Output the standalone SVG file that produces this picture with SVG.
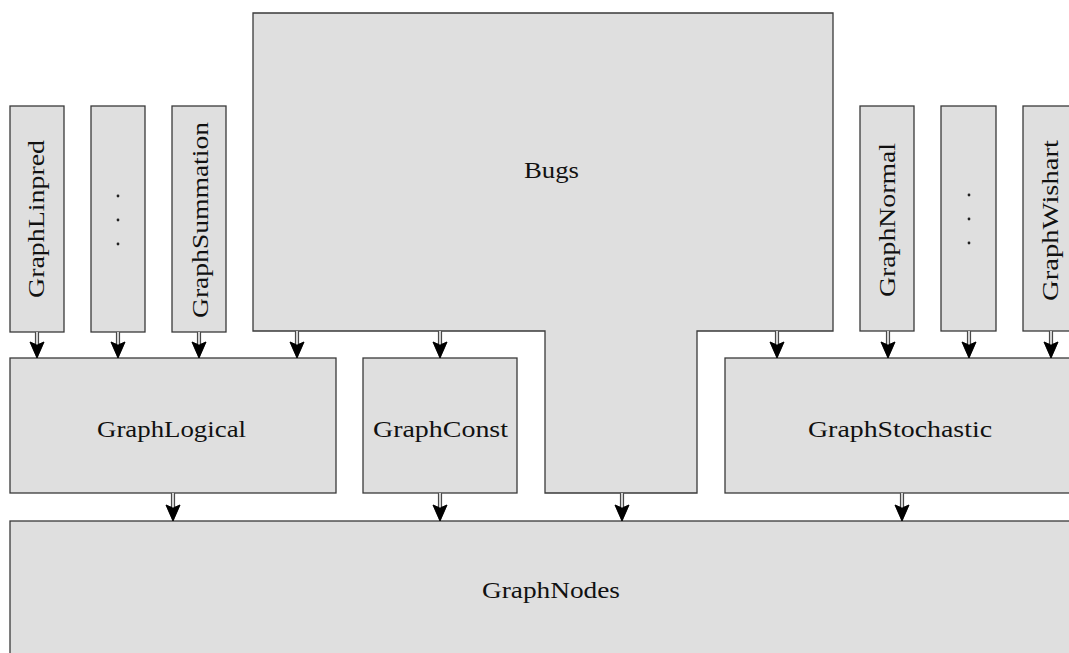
<svg xmlns="http://www.w3.org/2000/svg" xmlns:xlink="http://www.w3.org/1999/xlink" width="1069" height="653" viewBox="0 0 1069 653">
  <style>
    .box { fill: #dfdfdf; stroke: #3a3a3a; stroke-width: 1.3; }
    .lbl { font-family: "Liberation Serif", "Times New Roman", serif; font-size: 24px; fill: #111; }
    .dot { fill: #222; }
    .shaft-outer { fill: none; stroke: #4a4a4a; stroke-width: 4.2; }
    .shaft-inner { fill: none; stroke: #f4f4f4; stroke-width: 1.6; }
  </style>
  <defs>
    <!-- solid barbed head; reference point is the notch so the shaft ends inside it -->
    <marker id="head" markerUnits="userSpaceOnUse" markerWidth="17" markerHeight="14" refX="3" refY="7" orient="auto" overflow="visible">
      <path d="M0,0 L16,7 L0,14 L3,7 Z" fill="#000" stroke="#000" stroke-width="0.6" stroke-linejoin="miter"/>
    </marker>
  </defs>

  <rect width="1069" height="653" fill="#fff"/>

  <!-- top row: specialised node classes -->
  <g id="GraphLinpred">
    <rect class="box" x="10" y="106" width="54" height="226"/>
    <text class="lbl" transform="translate(44,298) rotate(-90)" textLength="158" lengthAdjust="spacingAndGlyphs">GraphLinpred</text>
  </g>
  <g id="LogicalMore">
    <rect class="box" x="91" y="106" width="54" height="226"/>
    <circle class="dot" cx="118" cy="196" r="1.4"/>
    <circle class="dot" cx="118" cy="220" r="1.4"/>
    <circle class="dot" cx="118" cy="244" r="1.4"/>
  </g>
  <g id="GraphSummation">
    <rect class="box" x="172" y="106" width="54" height="226"/>
    <text class="lbl" transform="translate(208,318) rotate(-90)" textLength="196" lengthAdjust="spacingAndGlyphs">GraphSummation</text>
  </g>
  <g id="GraphNormal">
    <rect class="box" x="860" y="106" width="54" height="225"/>
    <text class="lbl" transform="translate(895,297) rotate(-90)" textLength="154" lengthAdjust="spacingAndGlyphs">GraphNormal</text>
  </g>
  <g id="StochasticMore">
    <rect class="box" x="941" y="106" width="55" height="225"/>
    <circle class="dot" cx="969" cy="195" r="1.4"/>
    <circle class="dot" cx="969" cy="219" r="1.4"/>
    <circle class="dot" cx="969" cy="243" r="1.4"/>
  </g>
  <g id="GraphWishart">
    <rect class="box" x="1023" y="106" width="54" height="225"/>
    <text class="lbl" transform="translate(1058,301) rotate(-90)" textLength="161" lengthAdjust="spacingAndGlyphs">GraphWishart</text>
  </g>

  <!-- Bugs: wide top with a stem reaching down to GraphNodes -->
  <g id="Bugs">
    <path class="box" d="M253,13 H833 V331 H697 V493 H545 V331 H253 Z"/>
    <text class="lbl" x="524" y="178" textLength="55" lengthAdjust="spacingAndGlyphs">Bugs</text>
  </g>

  <!-- middle row -->
  <g id="GraphLogical">
    <rect class="box" x="10" y="358" width="326" height="135"/>
    <text class="lbl" x="97" y="437" textLength="149" lengthAdjust="spacingAndGlyphs">GraphLogical</text>
  </g>
  <g id="GraphConst">
    <rect class="box" x="363" y="358" width="154" height="135"/>
    <text class="lbl" x="373" y="437" textLength="135" lengthAdjust="spacingAndGlyphs">GraphConst</text>
  </g>
  <g id="GraphStochastic">
    <rect class="box" x="725" y="358" width="360" height="135"/>
    <text class="lbl" x="808" y="437" textLength="184" lengthAdjust="spacingAndGlyphs">GraphStochastic</text>
  </g>

  <!-- base class -->
  <g id="GraphNodes">
    <rect class="box" x="10" y="521" width="1080" height="150"/>
    <text class="lbl" x="482" y="598" textLength="138" lengthAdjust="spacingAndGlyphs">GraphNodes</text>
  </g>

  <!-- connectors: hollow double shaft with a solid head (tip 13px past the shaft end) -->
  <g id="connectors">
    <g class="shaft-outer">
      <g id="shafts" marker-end="url(#head)">
        <path d="M37,332 V345"/>
        <path d="M118,332 V345"/>
        <path d="M199,332 V345"/>
        <path d="M297,331 V345"/>
        <path d="M440,331 V345"/>
        <path d="M777,331 V345"/>
        <path d="M888,331 V345"/>
        <path d="M969,331 V345"/>
        <path d="M1051,331 V345"/>
        <path d="M173,493 V508"/>
        <path d="M440,493 V508"/>
        <path d="M622,493 V508"/>
        <path d="M902,493 V508"/>
      </g>
    </g>
    <use href="#shafts" xlink:href="#shafts" class="shaft-inner"/>
  </g>
</svg>
